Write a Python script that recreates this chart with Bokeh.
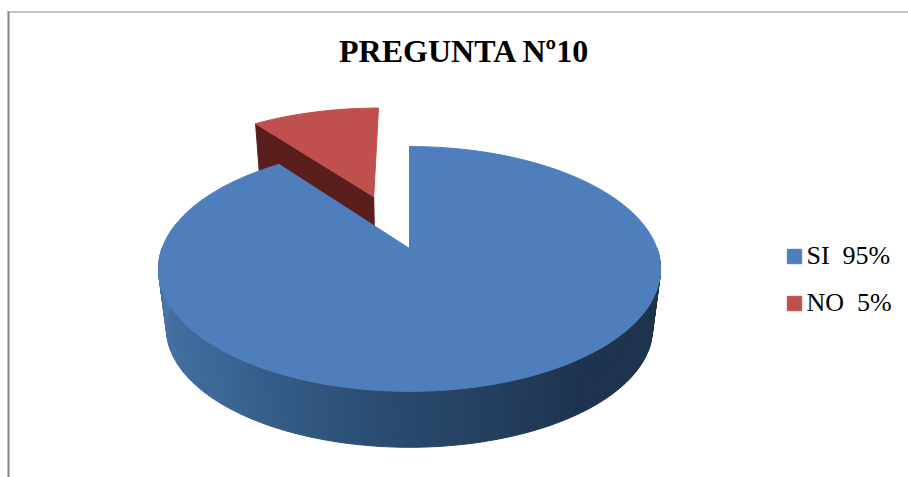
import math
from bokeh.plotting import figure
from bokeh.models import Range1d, Legend, LegendItem, Label
from bokeh.embed import file_html
from bokeh.resources import INLINE

# --- data ---
categories = ["SI  95%", "NO  5%"]
drawn_shares = [89.8, 10.2]      # the slices as drawn
colors = ["#4E7FBC", "#C0504D"]
title = "PREGUNTA Nº10"

# --- 3D pie projection ---
CX, CY = 409.0, 248.0
B, A, K = 247.5, 119.0, 0.167
DEPTH, BASE = 60.5, 0.968
EXPLODE = 0.495
STOPS = [(0.0, (74, 120, 172)), (0.25, (60, 104, 152)), (0.5, (40, 72, 108)),
         (0.7, (30, 52, 78)), (1.0, (30, 50, 75))]


def project(u, v, low=False):
    w = 1 + K * v
    x, y = CX + B * u / w, CY - A * v / w
    if low:
        x, y = CX + (x - CX) * BASE, CY + (y - CY) * BASE + DEPTH
    return x, y


def polar(deg):
    t = math.radians(deg)
    return math.sin(t), math.cos(t)


def lerp_color(f):
    for (f0, c0), (f1, c1) in zip(STOPS, STOPS[1:]):
        if f <= f1:
            s = (f - f0) / (f1 - f0)
            return "#%02x%02x%02x" % tuple(round(a + (b - a) * s) for a, b in zip(c0, c1))
    return "#1e324b"


p = figure(width=908, height=477, output_backend="svg", toolbar_location=None,
           x_range=Range1d(0, 908), y_range=Range1d(477, 0), min_border=0)
p.axis.visible = False
p.grid.visible = False
p.outline_line_color = None
p.background_fill_color = "white"

# outer chart frame
p.line([8, 8], [11, 477], line_color="#868686", line_width=2)
p.line([7, 908], [11.5, 11.5], line_color="#868686", line_width=1)

total = sum(drawn_shares)
sweep_si = 360 * drawn_shares[0] / total
sweep_no = 360 * drawn_shares[1] / total

# exploded NO slice, drawn first so that the SI slice covers it
mid = sweep_si + sweep_no / 2
eu, ev = polar(mid)
eu, ev = eu * EXPLODE, ev * EXPLODE
angles_no = [sweep_si + sweep_no * i / 24 for i in range(25)]
rim = [(eu + polar(a)[0], ev + polar(a)[1]) for a in angles_no]
top_no = [project(eu, ev)] + [project(*q) for q in rim]
wall = [project(eu, ev), project(*rim[0]), project(*rim[0], low=True), project(eu, ev, low=True)]
p.patch([q[0] for q in wall], [q[1] for q in wall], fill_color="#5A1F1C", line_color="#5A1F1C")
r_no = p.patch([q[0] for q in top_no], [q[1] for q in top_no], fill_color=colors[1], line_color=colors[1])

# outer wall of the SI slice, as shaded strips
N = 120
xs, ys, cols = [], [], []
for i in range(N):
    a0, a1 = 90 + 180 * i / N, 90 + 180 * (i + 1) / N
    q = [project(*polar(a0)), project(*polar(a1)),
         project(*polar(a1), low=True), project(*polar(a0), low=True)]
    xs.append([c[0] for c in q])
    ys.append([c[1] for c in q])
    cols.append(lerp_color(1 - (i + 0.5) / N))
p.patches(xs, ys, fill_color=cols, line_color=cols, line_width=1)

# top of the SI slice
angles_si = [sweep_si * i / 240 for i in range(241)]
top_si = [project(0, 0)] + [project(*polar(a)) for a in angles_si]
r_si = p.patch([q[0] for q in top_si], [q[1] for q in top_si], fill_color=colors[0], line_color=colors[0])

p.add_layout(Label(x=464, y=50, text=title, text_align="center", text_baseline="middle",
                   text_font="Liberation Serif", text_font_style="bold",
                   text_font_size="32px", text_color="black"))

legend = Legend(items=[LegendItem(label=categories[0], renderers=[r_si]),
                       LegendItem(label=categories[1], renderers=[r_no])],
                location=(784.5, 159), orientation="vertical",
                glyph_width=18, glyph_height=18, label_standoff=4, spacing=17,
                label_text_font="Liberation Serif", label_text_font_size="26px",
                label_text_color="black", border_line_color=None,
                background_fill_alpha=0, margin=0, padding=0)
p.add_layout(legend)

open("out.html", "w").write(file_html(p, INLINE))
